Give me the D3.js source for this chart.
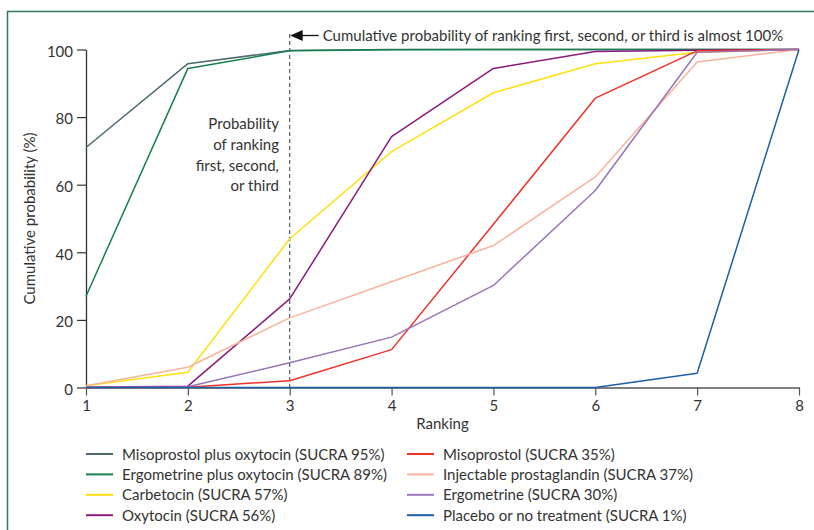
<!DOCTYPE html>
<html>
<head>
<meta charset="utf-8">
<script src="https://cdn.jsdelivr.net/npm/d3@7"></script>
<style>
  html, body { margin: 0; padding: 0; background: #fff; }
  svg { display: block; }
  text { font-family: Lato, "Open Sans", sans-serif; fill: #333; }
</style>
</head>
<body>
<svg id="chart" width="814" height="530"></svg>
<script>
// Rankings on the x axis
const rankings = [1, 2, 3, 4, 5, 6, 7, 8];
const yTicks = [0, 20, 40, 60, 80, 100];

// Treatments and their legend labels
const treatments = [
  "Misoprostol plus oxytocin (SUCRA 95%)",
  "Ergometrine plus oxytocin (SUCRA 89%)",
  "Carbetocin (SUCRA 57%)",
  "Oxytocin (SUCRA 56%)",
  "Misoprostol (SUCRA 35%)",
  "Injectable prostaglandin (SUCRA 37%)",
  "Ergometrine (SUCRA 30%)",
  "Placebo or no treatment (SUCRA 1%)"
];
const colors = ["#4e6a72", "#16804c", "#ffe010", "#8a1a7c", "#f2302a", "#f8b49c", "#9a74b8", "#1b5fa6"];

// Cumulative probability (%) of ranking at or above each rank
const misoprostolOxytocin = [71, 95.8, 99.7, 100, 100, 100, 100, 100];
const ergometrineOxytocin = [27, 94.4, 99.6, 99.9, 100, 100, 100, 100];
const carbetocin = [0.5, 4.5, 44, 69.8, 87.2, 95.8, 99.2, 100];
const oxytocin = [0.1, 0.4, 26.2, 74.2, 94.4, 99.4, 99.8, 100];
const misoprostol = [0, 0.1, 2, 11.2, 48.3, 85.6, 99.6, 100];
const injectableProstaglandin = [0.5, 6, 20.6, 31.3, 42, 62.3, 96.3, 100];
const ergometrine = [0, 0.2, 7.3, 14.9, 30.2, 58.3, 99.2, 100];
const placebo = [0, 0, 0, 0, 0, 0, 4.2, 100];

const seriesValues = [misoprostolOxytocin, ergometrineOxytocin, carbetocin, oxytocin,
  misoprostol, injectableProstaglandin, ergometrine, placebo];

const svg = d3.select("#chart");

// Outer frame (top and left rules)
svg.append("path")
  .attr("d", "M7.5,530 V11.5 H814")
  .attr("fill", "none")
  .attr("stroke", "#2b7a5a")
  .attr("stroke-width", 1.5);

const x = d3.scaleLinear().domain([1, 8]).range([86, 799]);
const y = d3.scaleLinear().domain([0, 100]).range([387.5, 49.5]);

// Axes
const yAxis = svg.append("g")
  .attr("transform", `translate(${x(1)},0)`)
  .call(d3.axisLeft(y).tickValues(yTicks).tickSize(9).tickPadding(4).tickSizeOuter(0));
yAxis.select(".domain").attr("stroke", "#333").attr("stroke-width", 1.3);
yAxis.selectAll(".tick line").attr("stroke", "#333").attr("stroke-width", 1.2);
yAxis.selectAll(".tick text")
  .attr("dy", "0.45em")
  .style("font-size", "15px")
  .style("font-family", "Lato, sans-serif")
  .attr("fill", "#333");

const xAxis = svg.append("g")
  .attr("transform", `translate(0,${y(0)})`)
  .call(d3.axisBottom(x).tickValues(rankings).tickFormat(d3.format("d")).tickSize(8).tickPadding(5).tickSizeOuter(0));
xAxis.select(".domain").attr("stroke", "#555").attr("stroke-width", 1.3);
xAxis.selectAll(".tick line").attr("stroke", "#555").attr("stroke-width", 1.2);
xAxis.selectAll(".tick text")
  .style("font-size", "15px")
  .style("font-family", "Lato, sans-serif")
  .attr("fill", "#333");

// Axis titles
svg.append("text")
  .attr("transform", `translate(35,${(y(0) + y(100)) / 2}) rotate(-90)`)
  .attr("text-anchor", "middle")
  .style("font-size", "15px")
  .text("Cumulative probability (%)");

svg.append("text")
  .attr("x", (x(1) + x(8)) / 2)
  .attr("y", 429)
  .attr("text-anchor", "middle")
  .style("font-size", "15px")
  .text("Ranking");

// Dashed marker at rank 3
svg.append("line")
  .attr("x1", x(3)).attr("x2", x(3))
  .attr("y1", 34).attr("y2", y(0))
  .attr("stroke", "#3d4f5e")
  .attr("stroke-width", 1.1)
  .attr("stroke-dasharray", "4,3");

// Lines
const line = d3.line().x((d, i) => x(rankings[i])).y(d => y(d));
svg.append("g")
  .selectAll("path")
  .data(seriesValues)
  .join("path")
  .attr("d", line)
  .attr("fill", "none")
  .attr("stroke", (d, i) => colors[i])
  .attr("stroke-width", 1.5)
  .attr("stroke-linejoin", "round");

// Arrow annotation at the top
const arrowY = 35.5;
svg.append("path")
  .attr("d", `M${x(3) + 0.5},${arrowY} L${x(3) + 13},${arrowY - 5.5} L${x(3) + 13},${arrowY + 5.5} Z`)
  .attr("fill", "#111");
svg.append("line")
  .attr("x1", x(3) + 12).attr("x2", x(3) + 29)
  .attr("y1", arrowY).attr("y2", arrowY)
  .attr("stroke", "#111").attr("stroke-width", 1.3);
svg.append("text")
  .attr("x", x(3) + 33)
  .attr("y", 40.5)
  .style("font-size", "15px")
  .text("Cumulative probability of ranking first, second, or third is almost 100%");

// Note left of the dashed marker
const note = ["Probability", "of ranking", "first, second,", "or third"];
svg.append("g")
  .selectAll("text")
  .data(note)
  .join("text")
  .attr("x", 279)
  .attr("y", (d, i) => 129 + i * 20.8)
  .attr("text-anchor", "end")
  .style("font-size", "15px")
  .text(d => d);

// Legend: two columns of four
const legend = svg.append("g")
  .selectAll("g")
  .data(treatments)
  .join("g")
  .attr("transform", (d, i) => `translate(${i < 4 ? 86 : 407},${454 + (i % 4) * 20.4})`);
legend.append("line")
  .attr("x1", 0).attr("x2", 27)
  .attr("stroke", (d, i) => colors[i])
  .attr("stroke-width", 2);
legend.append("text")
  .attr("x", 36)
  .attr("y", 5.5)
  .style("font-size", "15px")
  .text(d => d);
</script>
</body>
</html>
